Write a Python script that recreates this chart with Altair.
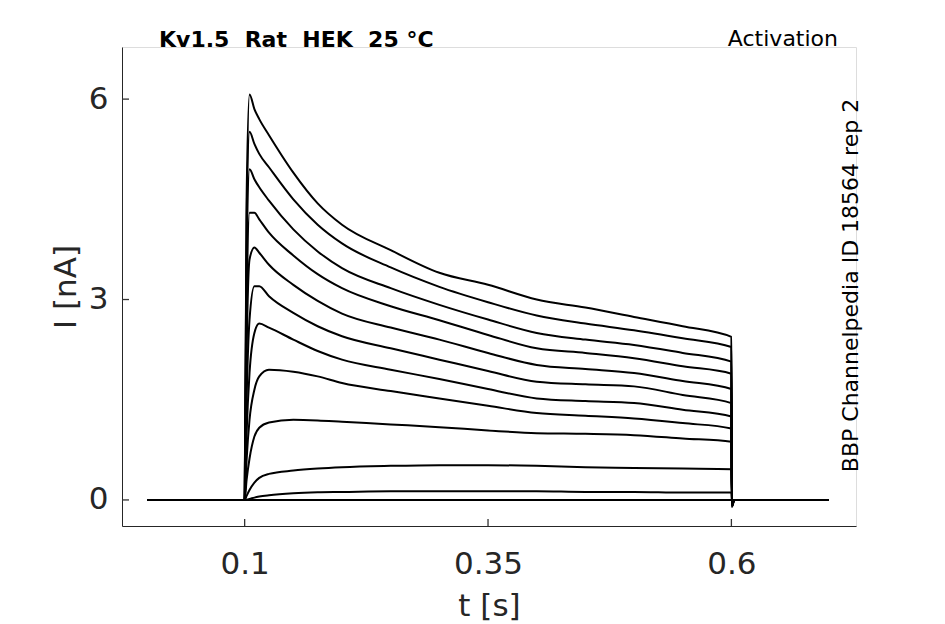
import altair as alt
import pandas as pd

# time samples (s)
TIMES = [0.0, 0.1, 0.102, 0.105, 0.11, 0.115, 0.125, 0.15, 0.175, 0.2, 0.25, 0.3,
         0.35, 0.4, 0.45, 0.5, 0.55, 0.6, 0.6005, 0.603, 0.7]

# current traces (nA), one list per voltage step
TRACE_01 = [0, 0, 4.5, 6.07, 5.85, 5.7, 5.46, 4.9, 4.44, 4.12, 3.74, 3.40, 3.22, 3.0, 2.88, 2.74, 2.6, 2.44, -0.1, 0, 0]
TRACE_02 = [0, 0, 4.2, 5.51, 5.33, 5.18, 4.98, 4.5, 4.12, 3.84, 3.48, 3.19, 2.96, 2.76, 2.64, 2.54, 2.42, 2.29, -0.1, 0, 0]
TRACE_03 = [0, 0, 3.6, 4.95, 4.8, 4.68, 4.48, 4.05, 3.72, 3.47, 3.17, 2.92, 2.70, 2.50, 2.40, 2.32, 2.2, 2.07, -0.1, 0, 0]
TRACE_04 = [0, 0, 2.8, 4.3, 4.3, 4.2, 4.0, 3.66, 3.38, 3.17, 2.9, 2.69, 2.47, 2.27, 2.2, 2.12, 2.0, 1.89, -0.09, 0, 0]
TRACE_05 = [0, 0, 2.2, 3.6, 3.78, 3.7, 3.52, 3.22, 2.98, 2.79, 2.58, 2.40, 2.2, 2.02, 1.96, 1.90, 1.78, 1.66, -0.08, 0, 0]
TRACE_06 = [0, 0, 1.5, 2.7, 3.2, 3.2, 3.05, 2.8, 2.6, 2.45, 2.27, 2.10, 1.93, 1.77, 1.73, 1.70, 1.57, 1.45, -0.07, 0, 0]
TRACE_07 = [0, 0, 1.0, 1.9, 2.5, 2.64, 2.58, 2.4, 2.23, 2.10, 1.95, 1.81, 1.66, 1.52, 1.48, 1.45, 1.35, 1.25, -0.06, 0, 0]
TRACE_08 = [0, 0, 0.6, 1.2, 1.65, 1.85, 1.95, 1.92, 1.85, 1.75, 1.63, 1.52, 1.41, 1.30, 1.26, 1.22, 1.15, 1.07, -0.05, 0, 0]
TRACE_09 = [0, 0, 0.3, 0.62, 0.95, 1.08, 1.16, 1.2, 1.19, 1.17, 1.13, 1.09, 1.04, 1.0, 0.99, 0.97, 0.92, 0.87, -0.04, 0, 0]
TRACE_10 = [0, 0, 0.06, 0.15, 0.26, 0.33, 0.39, 0.44, 0.47, 0.49, 0.51, 0.52, 0.52, 0.51, 0.49, 0.48, 0.47, 0.46, -0.03, 0, 0]
TRACE_11 = [0, 0, 0.005, 0.015, 0.035, 0.05, 0.07, 0.1, 0.115, 0.12, 0.13, 0.13, 0.13, 0.13, 0.12, 0.12, 0.11, 0.11, -0.02, 0, 0]
TRACE_12 = [0, 0, 0, 0, 0, 0, 0, 0, 0, 0, 0, 0, 0, 0, 0, 0, 0, 0, 0, 0, 0]

TRACES = [TRACE_01, TRACE_02, TRACE_03, TRACE_04, TRACE_05, TRACE_06,
          TRACE_07, TRACE_08, TRACE_09, TRACE_10, TRACE_11, TRACE_12]

X_TICKS = [0.1, 0.35, 0.6]
Y_TICKS = [0, 3, 6]

rows = []
for k, vals in enumerate(TRACES):
    for t, v in zip(TIMES, vals):
        rows.append({"trace": k, "t": t, "I": v})
df = pd.DataFrame(rows)

W, H = 734, 479
AX = "#262626"
FONT = "DejaVu Sans"

xscale = alt.Scale(domain=[-0.026, 0.728], nice=False, zero=False)
yscale = alt.Scale(domain=[-0.39, 6.78], nice=False, zero=False)

x_axis = alt.Axis(
    values=X_TICKS, format=".2~f", ticks=False, tickSize=0, grid=False,
    domainColor=AX, domainWidth=1, labelFontSize=31, labelColor=AX,
    labelPadding=47, labelBaseline="alphabetic", labelFlush=False,
    labelOverlap=False, labelFont=FONT,
    title="t [s]", titleFontSize=31, titleFontWeight="normal", titleColor=AX,
    titleFont=FONT, titleY=89, titleBaseline="alphabetic")
y_axis = alt.Axis(
    values=Y_TICKS, format="d", ticks=False, tickSize=0, grid=False,
    domainColor=AX, domainWidth=1, labelFontSize=31, labelColor=AX,
    labelPadding=14, labelFlush=False, labelOverlap=False, labelFont=FONT,
    title="I [nA]", titleFontSize=31, titleFontWeight="normal", titleColor=AX,
    titleFont=FONT, titleAngle=270, titleX=-47, titleY=H / 2,
    titleBaseline="alphabetic", titleAlign="center")

lines = alt.Chart(df).mark_line(color="black", strokeWidth=2, clip=True,
                                interpolate="monotone").encode(
    x=alt.X("t:Q", scale=xscale, axis=x_axis),
    y=alt.Y("I:Q", scale=yscale, axis=y_axis),
    detail="trace:N",
    order="t:Q",
)

xt = alt.Chart(pd.DataFrame({"tick_t": X_TICKS})).mark_rule(color="#333333", strokeWidth=1.3).encode(
    x=alt.X("tick_t:Q", scale=xscale, axis=x_axis),
    y=alt.value(H - 7),
    y2=alt.value(H),
)
yt = alt.Chart(pd.DataFrame({"tick_i": Y_TICKS})).mark_rule(color="#333333", strokeWidth=1.3).encode(
    y=alt.Y("tick_i:Q", scale=yscale, axis=y_axis),
    x=alt.value(0),
    x2=alt.value(7),
)

NB = "\u00a0"
title_txt = alt.Chart(pd.DataFrame({"s": [f"Kv1.5{NB}{NB}Rat{NB}{NB}HEK{NB}{NB}25{NB}°C"]})).mark_text(
    font=FONT, fontSize=22, fontWeight="bold", color="black", align="left", baseline="alphabetic"
).encode(text="s:N", x=alt.value(37), y=alt.value(0))

act_txt = alt.Chart(pd.DataFrame({"s": ["Activation"]})).mark_text(
    font=FONT, fontSize=22, color="black", align="right", baseline="alphabetic"
).encode(text="s:N", x=alt.value(716), y=alt.value(-1))

side_txt = alt.Chart(pd.DataFrame({"s": ["BBP Channelpedia ID 18564 rep 2"]})).mark_text(
    font=FONT, fontSize=22, color="black", align="center", baseline="alphabetic", angle=270
).encode(text="s:N", x=alt.value(736), y=alt.value(238.5))

chart = alt.layer(xt, yt, lines, title_txt, act_txt, side_txt).properties(
    width=W, height=H,
    autosize=alt.AutoSizeParams(type="none"),
    padding={"left": 114, "top": 39, "right": 60, "bottom": 98},
).configure_view(strokeWidth=0, stroke="transparent").configure(font=FONT)

chart.save("out.html", embed_options={"renderer": "svg", "actions": False})
